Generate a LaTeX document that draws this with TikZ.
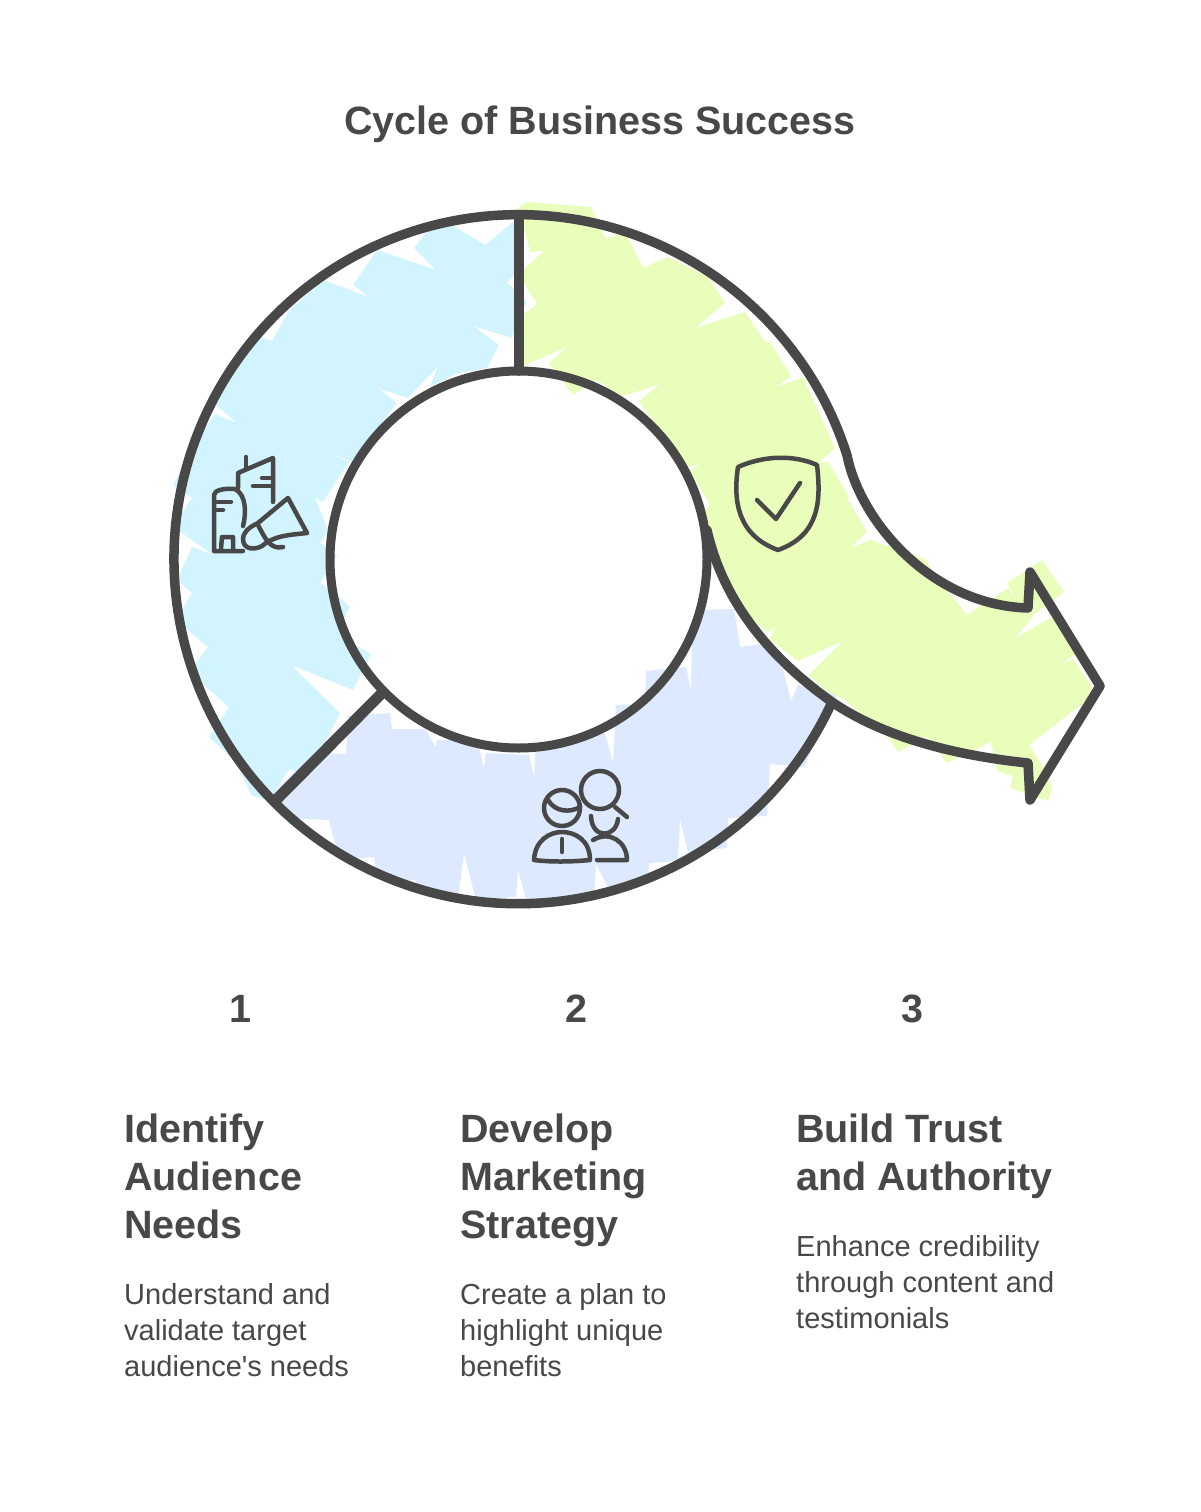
\documentclass[tikz,border=0pt]{standalone}
\usepackage{fontspec}
\newfontfamily\labelfont{Liberation Sans}
\definecolor{inkgrey}{HTML}{484848}
\definecolor{ringblue}{HTML}{D2F4FF}
\definecolor{ringlav}{HTML}{DCE9FF}
\definecolor{ringgreen}{HTML}{E8FEBA}
\tikzset{
  outline/.style={draw=inkgrey,line width=9.5pt,line join=round,line cap=round},
  iconline/.style={draw=inkgrey,line width=4.5pt,line join=round,line cap=round},
  titletext/.style={text=inkgrey,inner sep=0pt,font=\labelfont\fontsize{39.5}{48}\selectfont\bfseries},
  headtext/.style={text=inkgrey,inner sep=0pt,anchor=north west,align=left,font=\labelfont\fontsize{39.5}{48}\selectfont\bfseries},
  bodytext/.style={text=inkgrey,inner sep=0pt,anchor=north west,align=left,font=\labelfont\fontsize{29}{36}\selectfont},
}
\begin{document}
\begin{tikzpicture}[x=1pt,y=-1pt]
\useasboundingbox (0,0) rectangle (1200,1512);
\fill[white] (0,0) rectangle (1200,1512);
% fills
\fill[ringblue] (522,218)--(512,223)--(485,245)--(452,225)--(438,218)--(414,248)--(436,270)--(377,250)--(353,285)--(369,297)--(323,280)--(288,312)--(302,317)--(288,312)--(272,341)--(262,337)--(252,345)--(215,404)--(237,423)--(215,414)--(198,438)--(173,485)--(192,498)--(180,515)--(178,530)--(213,555)--(192,547)--(177,580)--(192,593)--(180,613)--(182,625)--(208,647)--(193,667)--(198,680)--(229,707)--(209,737)--(237,763)--(251,795)--(272,802)--(272,797)--(289,769)--(308,775)--(340,713)--(291,665)--(353,690)--(371,654)--(352,643)--(342,622)--(350,607)--(335,593)--(320,583)--(337,555)--(320,543)--(328,530)--(315,498)--(323,502)--(349,462)--(328,452)--(352,462)--(397,403)--(378,388)--(408,398)--(438,366)--(430,387)--(458,373)--(487,368)--(499,345)--(473,326)--(512,338)--(518,317)--(527,302)--(507,282)--(522,268)--cycle;
\fill[ringlav] (348,716)--(390,713)--(392,729)--(425,729)--(436,748)--(437,740)--(477,740)--(484,768)--(486,753)--(529,755)--(534,777)--(536,746)--(566,738)--(605,733)--(613,763)--(616,705)--(645,704)--(646,671)--(686,667)--(691,690)--(692,634)--(702,610)--(734,609)--(740,647)--(764,644)--(783,670)--(791,701)--(798,685)--(837,694)--(816,736)--(805,767)--(770,764)--(767,816)--(728,818)--(727,848)--(688,852)--(680,819)--(678,861)--(649,863)--(648,877)--(608,888)--(596,864)--(594,896)--(554,899)--(526,899)--(518,870)--(516,897)--(476,900)--(464,853)--(458,898)--(418,889)--(415,880)--(388,881)--(377,877)--(374,857)--(339,860)--(329,820)--(283,818)--(273,807)--(279,787)--(313,753)--(346,754)--cycle;
\fill[ringgreen] (527,202)--(515,210)--(522,220)--(530,252)--(544,251)--(523,270)--(520,277)--(537,304)--(520,317)--(520,365)--(523,366)--(567,347)--(549,363)--(573,395)--(597,380)--(620,397)--(660,384)--(639,401)--(662,433)--(687,468)--(701,462)--(690,471)--(710,505)--(703,513)--(712,560)--(740,610)--(768,632)--(775,626)--(770,640)--(798,661)--(843,641)--(809,675)--(825,690)--(845,700)--(888,737)--(898,752)--(927,736)--(947,763)--(968,753)--(991,742)--(997,771)--(1013,776)--(1010,788)--(1048,801)--(1052,788)--(1047,773)--(1029,745)--(1087,700)--(1092,687)--(1073,659)--(1058,666)--(1079,652)--(1062,622)--(1052,617)--(1015,638)--(1032,618)--(1033,615)--(1064,592)--(1042,560)--(1007,583)--(1018,602)--(1008,588)--(967,615)--(955,600)--(940,582)--(925,559)--(870,540)--(850,548)--(867,532)--(847,498)--(849,497)--(828,462)--(818,463)--(835,448)--(803,377)--(777,387)--(791,376)--(770,342)--(765,342)--(745,312)--(695,328)--(725,303)--(708,277)--(668,257)--(643,268)--(625,232)--(606,239)--(591,207)--cycle;
% ring outlines
\coordinate (topouter) at (519,215);
\coordinate (topinner) at (519,371);
\coordinate (lowouter) at (275,801);
\coordinate (lowinner) at (382,693);
\coordinate (greenjoin) at (832,702);
\node[circle,outline,line width=9pt,minimum size=377pt,inner sep=0pt] (hub) at (518.5,559.5) {};
\draw[outline] (greenjoin) arc[start angle=-24.5,end angle=-270,radius=344.5pt] arc[start angle=90,end angle=17.5,radius=344.5pt]
  .. controls (860,520) and (930,605) .. (1028,608) -- (1030,572) -- (1100,686) -- (1030,800) -- (1028,763)
  .. controls (950,755) and (880,735) .. (greenjoin) .. controls (780,665) and (725,610) .. (707,530);
\draw[outline] (topouter) -- (topinner);
\draw[outline,line width=11pt] (lowouter) -- (lowinner);
% building and megaphone
\draw[iconline] (246,457) -- (246,468);
\draw[iconline] (238,488) -- (238,473) -- (273,458) -- (273,502);
\draw[iconline] (253,486) -- (273,486);
\draw[iconline] (262,478) -- (273,478);
\draw[iconline] (243,551) -- (214,551) -- (214,495) .. controls (214,490) and (225,488) .. (235,489) .. controls (247,495) and (246,515) .. (243,526);
\draw[iconline] (217,502) -- (231,502);
\draw[iconline] (217,510) -- (223,510);
\draw[iconline] (221,549) -- (222,537) -- (233,537) -- (233,549);
\draw[iconline] (307,533) -- (288,498) -- (258,523) .. controls (248,528) and (243,532) .. (243,540) .. controls (244,550) and (255,550) .. (262,546) .. controls (275,535) and (290,535) .. (307,533);
\draw[iconline] (258,525) .. controls (265,538) and (270,550) .. (283,547);
% people and lens
\node[circle,iconline,minimum size=36pt,inner sep=0pt] (headleft) at (562,808) {};
\draw[iconline] (548,800) .. controls (555,812) and (570,813) .. (580,807);
\draw[iconline] (534,860) .. controls (535,840) and (550,832) .. (562,832) .. controls (575,832) and (590,840) .. (590,860) .. controls (570,862) and (550,862) .. (534,860);
\draw[iconline] (562,839) -- (562,852);
\node[circle,iconline,minimum size=38pt,inner sep=0pt] (lens) at (600,790) {};
\draw[iconline] (615,807) -- (627,817);
\draw[iconline] (591,816) .. controls (592,840) and (616,838) .. (618,819);
\draw[iconline] (593,840) .. controls (610,830) and (627,842) .. (627,860) -- (597,860);
% shield
\draw[iconline] (738,467) .. controls (765,455) and (795,455) .. (817,465) .. controls (821,500) and (820,535) .. (778,550) .. controls (737,535) and (733,500) .. (738,467) -- cycle;
\draw[iconline] (757,500) -- (776,519) -- (800,483);
% texts
\node[titletext] (title) at (600,124.5) {Cycle of Business Success};
\node[titletext,anchor=base] (numa) at (240,1022) {1};
\node[titletext,anchor=base] (numb) at (576,1022) {2};
\node[titletext,anchor=base] (numc) at (912,1022) {3};
\node[headtext] (heada) at (124,1114) {Identify\\Audience\\Needs};
\node[headtext] (headb) at (460,1114) {Develop\\Marketing\\Strategy};
\node[headtext] (headc) at (796,1114) {Build Trust\\and Authority};
\node[bodytext] (bodya) at (124,1283) {Understand and\\validate target\\audience's needs};
\node[bodytext] (bodyb) at (460,1283) {Create a plan to\\highlight unique\\benefits};
\node[bodytext] (bodyc) at (796,1235) {Enhance credibility\\through content and\\testimonials};
\end{tikzpicture}
\end{document}
